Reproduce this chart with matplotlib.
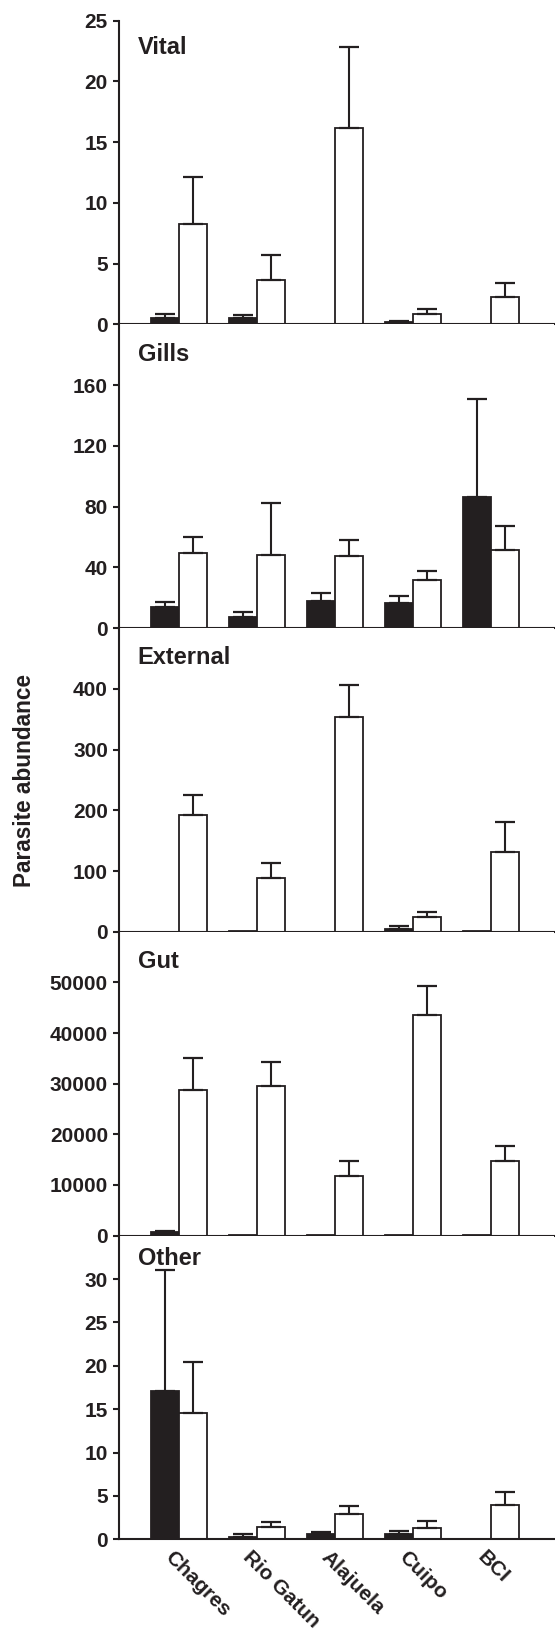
import numpy as np
import matplotlib
matplotlib.use('Agg')
from matplotlib import pyplot as plt
from matplotlib.transforms import ScaledTranslation

# sites on the x axis
sites = ['Chagres', 'Rio Gatun', 'Alajuela', 'Cuipo', 'BCI']

# mean abundance (black / white bars) and upper error
vital_black = [0.5, 0.5, 0.0, 0.19, 0.0]
vital_black_err = [0.38, 0.24, 0.0, 0.09, 0.0]
vital_white = [8.23, 3.63, 16.13, 0.88, 2.26]
vital_white_err = [3.94, 2.07, 6.67, 0.36, 1.15]

gills_black = [14.1, 7.3, 18.1, 16.6, 86.5]
gills_black_err = [3.3, 3.3, 5.1, 4.4, 64.5]
gills_white = [49.4, 48.1, 47.7, 32.0, 51.2]
gills_white_err = [10.4, 34.0, 10.1, 5.3, 16.1]

external_black = [0.5, 1.0, 0.5, 5.0, 2.0]
external_black_err = [0.0, 0.0, 0.0, 5.0, 0.0]
external_white = [192, 89, 353, 24.8, 131.5]
external_white_err = [32.5, 24, 53.6, 7.7, 49.5]

gut_black = [660, 50, 30, 30, 30]
gut_black_err = [270, 0, 0, 0, 0]
gut_white = [28740, 29470, 11720, 43510, 14700]
gut_white_err = [6290, 4900, 2980, 5830, 3050]

other_black = [17.04, 0.31, 0.58, 0.58, 0.0]
other_black_err = [14.0, 0.27, 0.27, 0.34, 0.0]
other_white = [14.54, 1.42, 2.92, 1.31, 3.92]
other_white_err = [5.88, 0.62, 0.93, 0.84, 1.58]

# name, data, y limit, tick step, last tick, label drop (px)
panels = [
    ('Vital', vital_black, vital_black_err, vital_white, vital_white_err, 25, 5, 25, 33),
    ('Gills', gills_black, gills_black_err, gills_white, gills_white_err, 200, 40, 160, 37),
    ('External', external_black, external_black_err, external_white, external_white_err, 500, 100, 400, 36),
    ('Gut', gut_black, gut_black_err, gut_white, gut_white_err, 60000, 10000, 50000, 36),
    ('Other', other_black, other_black_err, other_white, other_white_err, 35, 5, 30, 29),
]

plt.rcParams['font.family'] = ['Liberation Sans', 'DejaVu Sans']
plt.rcParams['font.weight'] = 'bold'

dark = '#231f20'
bw = 0.358
x = np.arange(len(sites))

fig, axes = plt.subplots(5, 1, figsize=(5.55, 16.39), dpi=100, sharex=True)
fig.subplots_adjust(left=0.2144, right=0.998, top=0.9874, bottom=0.0608, hspace=0)

for ax, (name, blk, blk_err, wht, wht_err, ytop, step, tmax, drop) in zip(axes, panels):
    ax.bar(x - bw / 2, blk, bw, color=dark, edgecolor=dark, linewidth=1.3, zorder=2)
    ax.bar(x + bw / 2, wht, bw, color='white', edgecolor=dark, linewidth=1.3, zorder=2)

    # upper error bars only
    for pos, val, err in ((x - bw / 2, blk, blk_err), (x + bw / 2, wht, wht_err)):
        val = np.array(val)
        err = np.array(err)
        keep = err > 0
        ax.errorbar(pos[keep], val[keep], yerr=[np.zeros(keep.sum()), err[keep]],
                    fmt='none', ecolor=dark, elinewidth=1.5, capsize=7.2,
                    capthick=1.6, zorder=3)

    ax.set_ylim(0, ytop)
    ax.set_yticks(np.arange(0, tmax + step / 2, step))
    ax.set_xlim(-0.767, 4.805)
    ax.spines['top'].set_visible(False)
    ax.spines['right'].set_visible(False)
    for side in ('left', 'bottom'):
        ax.spines[side].set_linewidth(1.5)
        ax.spines[side].set_color(dark)
    ax.tick_params(axis='y', direction='out', length=4, width=1.5, pad=4,
                   labelsize=15, colors=dark)
    ax.tick_params(axis='x', length=0)
    ax.text(0.043, 1 - drop / 304, name, transform=ax.transAxes, fontsize=17,
            fontweight='bold', color=dark, va='baseline', ha='left', zorder=4)

# site labels under the last panel
axes[-1].set_xticks(x)
axes[-1].set_xticklabels(sites, rotation=-45, ha='left', va='top',
                         rotation_mode='anchor', fontsize=15, fontweight='bold',
                         color=dark)
axes[-1].tick_params(axis='x', pad=6)
for lab in axes[-1].get_xticklabels():
    lab.set_transform(lab.get_transform() + ScaledTranslation(-0.04, 0, fig.dpi_scale_trans))

fig.text(0.045, 0.524, 'Parasite abundance', rotation=90, fontsize=16.3,
         fontweight='bold', color=dark, ha='center', va='center')

fig.savefig('out.png', dpi=100)
